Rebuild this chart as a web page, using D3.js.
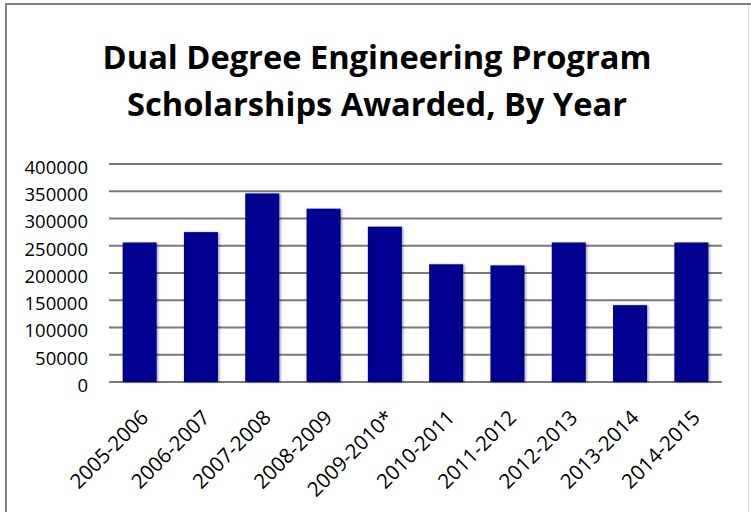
<!DOCTYPE html>
<html>
<head>
<meta charset="utf-8">
<script src="https://cdn.jsdelivr.net/npm/d3@7"></script>
<style>
  body { margin: 0; background: #fff; }
  svg { display: block; }
</style>
</head>
<body>
<div id="chart"></div>
<script>
var years = ["2005-2006", "2006-2007", "2007-2008", "2008-2009", "2009-2010*",
             "2010-2011", "2011-2012", "2012-2013", "2013-2014", "2014-2015"];
var amounts = [256000, 275000, 346000, 318000, 285000, 216000, 214000, 256000, 141000, 256000];
var yTicks = [0, 50000, 100000, 150000, 200000, 250000, 300000, 350000, 400000];
var titleLines = ["Dual Degree Engineering Program", "Scholarships Awarded, By Year"];

var width = 751, height = 512;
var margin = {top: 164, right: 29, bottom: 130, left: 109};
var font = "'Open Sans', Lato, sans-serif";

var svg = d3.select("#chart").append("svg")
  .attr("width", width)
  .attr("height", height);

// bar shadow
var defs = svg.append("defs");
defs.append("filter").attr("id", "shadow")
  .attr("x", "-20%").attr("y", "-5%").attr("width", "140%").attr("height", "110%")
  .append("feDropShadow")
  .attr("dx", 1.5).attr("dy", 0.5).attr("stdDeviation", 1.2)
  .attr("flood-color", "#000").attr("flood-opacity", 0.35);

// frame (cut off at bottom/right like the picture)
svg.append("line").attr("x1", 6).attr("x2", 6).attr("y1", 4).attr("y2", height)
  .attr("stroke", "#7f7f7f").attr("stroke-width", 2);
svg.append("line").attr("x1", 5).attr("x2", width).attr("y1", 4).attr("y2", 4)
  .attr("stroke", "#7f7f7f").attr("stroke-width", 2);
svg.append("line").attr("x1", 748.5).attr("x2", 748.5).attr("y1", 5).attr("y2", height)
  .attr("stroke", "#d9d9d9").attr("stroke-width", 1);

// title
var title = svg.selectAll(".title")
  .data(titleLines)
  .enter().append("text")
  .attr("class", "title")
  .attr("x", 377)
  .attr("y", function(d, i) { return 69 + i * 47; })
  .attr("text-anchor", "middle")
  .style("font-family", font)
  .style("font-weight", "bold")
  .style("font-size", "30px")
  .attr("fill", "#000")
  .text(function(d) { return d; });

// fit first title line to the width seen in the picture (~549px), same size for both
var w0 = title.node().getComputedTextLength();
if (w0 > 0) title.style("font-size", (30 * 549 / w0) + "px");

var x = d3.scaleBand()
  .domain(years)
  .range([margin.left, width - margin.right])
  .paddingInner(0.445)
  .paddingOuter(0.2225);

var y = d3.scaleLinear()
  .domain([0, 400000])
  .range([height - margin.bottom, margin.top]);

// gridlines
svg.selectAll(".grid")
  .data(yTicks)
  .enter().append("line")
  .attr("class", "grid")
  .attr("x1", margin.left)
  .attr("x2", width - margin.right)
  .attr("y1", function(d) { return y(d); })
  .attr("y2", function(d) { return y(d); })
  .attr("stroke", "#7a7a7a")
  .attr("stroke-width", 2);

// bars
svg.selectAll(".bar")
  .data(amounts)
  .enter().append("rect")
  .attr("class", "bar")
  .attr("x", function(d, i) { return x(years[i]); })
  .attr("y", function(d) { return y(d); })
  .attr("width", x.bandwidth())
  .attr("height", function(d) { return y(0) - y(d); })
  .attr("fill", "#000090")
  .attr("filter", "url(#shadow)");

// y axis
var yAxis = svg.append("g")
  .attr("transform", "translate(" + margin.left + ",0)")
  .call(d3.axisLeft(y).tickValues(yTicks).tickFormat(d3.format("d")).tickSize(0).tickPadding(21));
yAxis.select(".domain").remove();
yAxis.selectAll("text")
  .attr("dy", "0.5em")
  .style("font-family", font)
  .style("font-size", "18.5px")
  .attr("fill", "#000");

// x axis
var xAxis = svg.append("g")
  .attr("transform", "translate(0," + y(0) + ")")
  .call(d3.axisBottom(x).tickSize(0));
xAxis.select(".domain").remove();
xAxis.selectAll("text")
  .attr("y", 0).attr("dy", 0)
  .attr("text-anchor", "end")
  .attr("transform", "translate(10,37) rotate(-45)")
  .style("font-family", font)
  .style("font-size", "20.5px")
  .attr("fill", "#000");
</script>
</body>
</html>
